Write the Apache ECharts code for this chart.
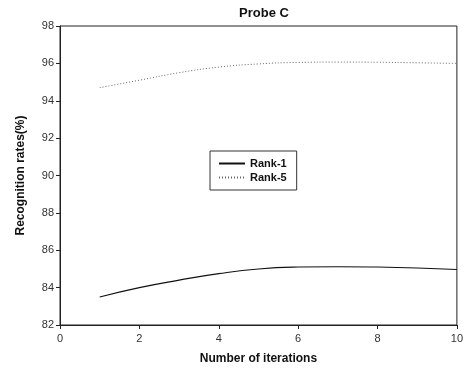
<!DOCTYPE html>
<html>
<head>
<meta charset="utf-8">
<script src="https://cdn.jsdelivr.net/npm/echarts@6/dist/echarts.min.js"></script>
<style>
  html, body { margin: 0; padding: 0; background: #fff; }
  #chart { width: 466px; height: 381px; }
</style>
</head>
<body>
<div id="chart"></div>
<script>
// values
const iterations = [1, 2, 3, 4, 5, 6, 7, 8, 9, 10]
const rank1 = [83.5, 84.0, 84.4, 84.75, 85.0, 85.1, 85.12, 85.1, 85.05, 84.97]
const rank5 = [94.7, 95.1, 95.5, 95.8, 95.97, 96.05, 96.07, 96.06, 96.03, 96.0]
const xTicks = [0, 2, 4, 6, 8, 10]
const yTicks = [82, 84, 86, 88, 90, 92, 94, 96, 98]

const chart = echarts.init(document.getElementById('chart'))
const font = 'Liberation Sans, Arial, sans-serif'

chart.setOption({
  animation: false,
  title: {
    text: 'Probe C',
    left: 259,
    top: 2,
    textAlign: 'center',
    textStyle: { fontFamily: font, fontSize: 13, fontWeight: 'bold', color: '#111' }
  },
  legend: {
    left: 210,
    top: 151,
    orient: 'vertical',
    itemWidth: 26,
    itemHeight: 10,
    itemGap: 3,
    padding: [7, 10, 7, 8],
    borderColor: '#333',
    borderWidth: 1,
    itemStyle: { opacity: 0 },
    textStyle: { fontFamily: font, fontSize: 11, fontWeight: 'bold', color: '#111' },
    data: ['Rank-1', 'Rank-5']
  },
  grid: {
    left: 60, right: 9, top: 26, bottom: 56,
    show: true, borderColor: '#222', borderWidth: 1
  },
  xAxis: {
    type: 'value',
    min: xTicks[0],
    max: xTicks[xTicks.length - 1],
    interval: 2,
    name: 'Number of iterations',
    nameLocation: 'middle',
    nameGap: 28,
    nameTextStyle: { fontFamily: font, fontSize: 12, fontWeight: 'bold', color: '#111' },
    axisLine: { lineStyle: { color: '#222' } },
    axisTick: { show: true, length: 4, lineStyle: { color: '#222' } },
    axisLabel: { fontFamily: font, fontSize: 11, color: '#333', margin: 8 },
    splitLine: { show: false }
  },
  yAxis: {
    type: 'value',
    min: yTicks[0],
    max: yTicks[yTicks.length - 1],
    interval: 2,
    name: 'Recognition rates(%)',
    nameLocation: 'middle',
    nameGap: 33,
    nameTextStyle: { fontFamily: font, fontSize: 12, fontWeight: 'bold', color: '#111' },
    axisLine: { show: true, lineStyle: { color: '#222' } },
    axisTick: { show: true, length: 4, lineStyle: { color: '#222' } },
    axisLabel: { fontFamily: font, fontSize: 11, color: '#333', margin: 6 },
    splitLine: { show: false }
  },
  series: [
    {
      name: 'Rank-1',
      type: 'line',
      smooth: true,
      symbol: 'none',
      data: iterations.map((x, i) => [x, rank1[i]]),
      lineStyle: { color: '#111', width: 1.1, type: 'solid' },
      itemStyle: { color: '#111' }
    },
    {
      name: 'Rank-5',
      type: 'line',
      smooth: true,
      symbol: 'none',
      data: iterations.map((x, i) => [x, rank5[i]]),
      lineStyle: { color: '#666', width: 1, type: [1, 2] },
      itemStyle: { color: '#666' }
    }
  ]
})
</script>
</body>
</html>
